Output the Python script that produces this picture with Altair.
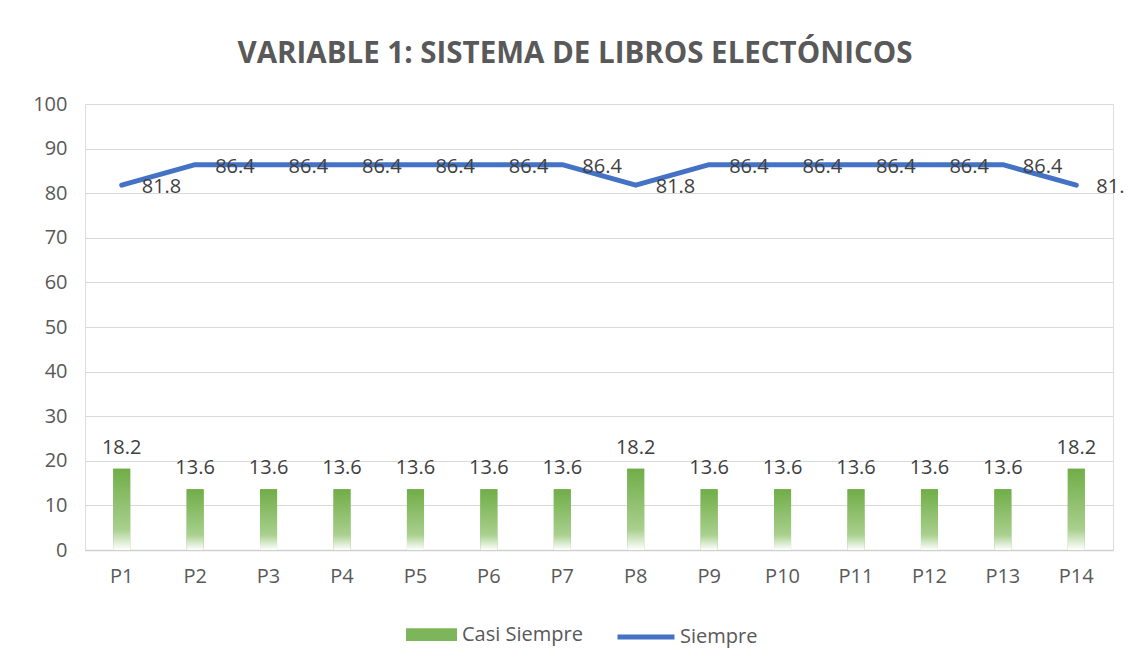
import altair as alt
import pandas as pd

categories = ["P1", "P2", "P3", "P4", "P5", "P6", "P7", "P8", "P9", "P10", "P11", "P12", "P13", "P14"]
casi_siempre = [18.2, 13.6, 13.6, 13.6, 13.6, 13.6, 13.6, 18.2, 13.6, 13.6, 13.6, 13.6, 13.6, 18.2]
siempre = [81.8, 86.4, 86.4, 86.4, 86.4, 86.4, 86.4, 81.8, 86.4, 86.4, 86.4, 86.4, 86.4, 81.8]
y_ticks = [0, 10, 20, 30, 40, 50, 60, 70, 80, 90, 100]

df = pd.DataFrame({
    "P": categories,
    "casi": casi_siempre,
    "siempre": siempre,
    "s1": ["Casi Siempre"] * len(categories),
    "s2": ["Siempre"] * len(categories),
})

FONT = "Open Sans"
TXT = "#595959"
GREEN = "#70AD47"
BLUE = "#4472C4"

x_enc = alt.X("P:N", sort=categories, title=None,
              scale=alt.Scale(paddingInner=0, paddingOuter=0),
              axis=alt.Axis(labelAngle=0, labelFontSize=20, labelFont=FONT, labelColor=TXT,
                            labelPadding=16, ticks=False, domain=True, domainColor="#D0D0D0",
                            domainWidth=1.5, grid=False))
y_scale = alt.Scale(domain=[0, 100], nice=False)
y_axis = alt.Axis(values=y_ticks, labelFontSize=20, labelFont=FONT, labelColor=TXT,
                  labelPadding=18, ticks=False, domain=False, grid=True,
                  gridColor="#D9D9D9", gridWidth=1)

base = alt.Chart(df)

bar_legend = base.mark_bar(size=17).encode(
    x=x_enc,
    y=alt.Y("casi:Q", scale=y_scale, axis=y_axis, title=None),
    fill=alt.Fill("s1:N", scale=alt.Scale(domain=["Casi Siempre"], range=["#7DB55A"]),
                  legend=alt.Legend(title=None, orient="none", legendX=321, legendY=505,
                                    symbolType="M-1,-0.25H1V0.25H-1Z", symbolSize=2601,
                                    symbolStrokeWidth=0, labelFontSize=20, labelFont=FONT,
                                    labelColor=TXT, labelOffset=5, padding=0)),
)

gradient = alt.Gradient(
    gradient="linear",
    stops=[alt.GradientStop(color=GREEN, offset=0),
           alt.GradientStop(color="#A9D08E", offset=0.75),
           alt.GradientStop(color="#FFFFFF", offset=1)],
    x1=1, x2=1, y1=0, y2=1,
)
bars = base.mark_bar(size=17, color=gradient).encode(
    x=alt.X("P:N", sort=categories),
    y=alt.Y("casi:Q"),
)

bar_labels = base.mark_text(fontSize=20, font=FONT, color="#404040", baseline="alphabetic",
                            dy=-15).encode(
    x=alt.X("P:N", sort=categories),
    y=alt.Y("casi:Q"),
    text=alt.Text("casi:Q", format=".1f"),
)

line = base.mark_line(strokeWidth=5, strokeCap="round", strokeJoin="round").encode(
    x=alt.X("P:N", sort=categories),
    y=alt.Y("siempre:Q"),
    stroke=alt.Stroke("s2:N", scale=alt.Scale(domain=["Siempre"], range=[BLUE]),
                      legend=alt.Legend(title=None, orient="none", legendX=530, legendY=502,
                                        symbolType="stroke", symbolSize=3249,
                                        symbolStrokeWidth=5, labelFontSize=20, labelFont=FONT,
                                        labelColor=TXT, labelOffset=3, padding=0)),
)

line_labels = base.mark_text(fontSize=20, font=FONT, color="#404040", align="left",
                             baseline="middle", dx=20, dy=2).encode(
    x=alt.X("P:N", sort=categories),
    y=alt.Y("siempre:Q"),
    text=alt.Text("siempre:Q", format=".1f"),
)

chart = alt.layer(bar_legend, bars, bar_labels, line, line_labels).properties(
    width=1028,
    height=446,
    autosize=alt.AutoSizeParams(type="none"),
    padding={"left": 77, "top": 96, "right": 11, "bottom": 98},
    title=alt.TitleParams("VARIABLE 1: SISTEMA DE LIBROS ELECTÓNICOS", fontSize=29.5, font=FONT,
                          fontWeight="bold", color=TXT, anchor="middle", baseline="alphabetic",
                          offset=42, dx=-24, dy=40),
).configure_view(stroke=None).configure(background="white")

chart.save("out.html", embed_options={"renderer": "svg", "actions": False})
